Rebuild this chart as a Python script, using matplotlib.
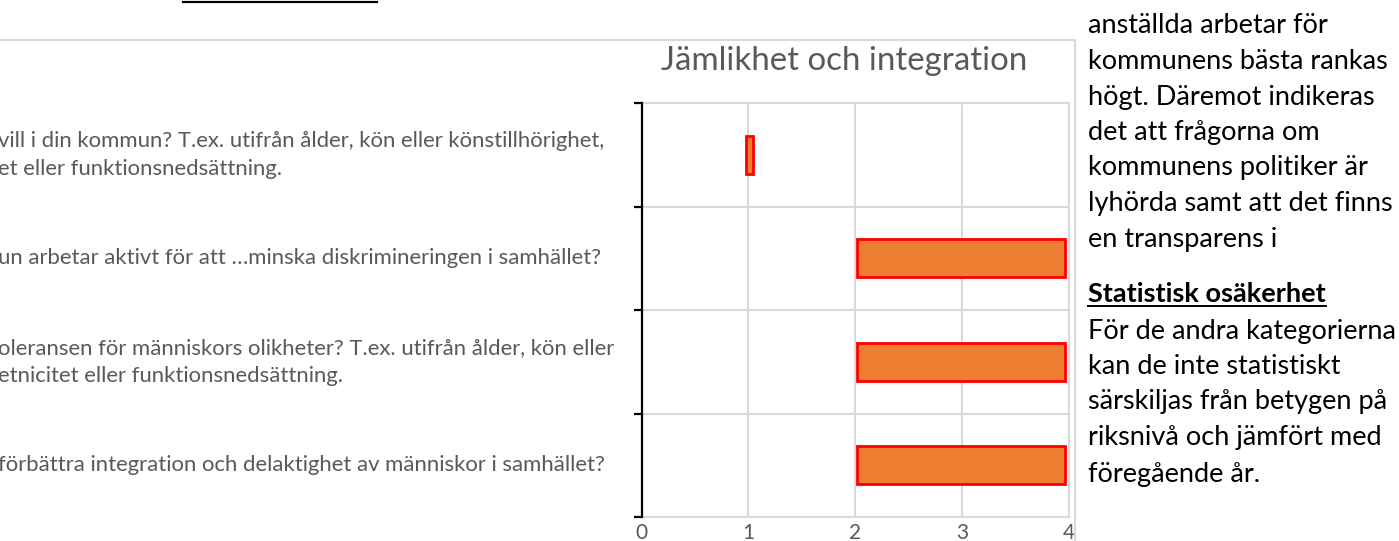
import matplotlib
matplotlib.use('Agg')
import matplotlib.pyplot as plt
from matplotlib import transforms
from matplotlib.lines import Line2D

plt.rcParams['font.family'] = ['Lato', 'DejaVu Sans']

# ---------------- data ----------------
categories = [
    "vill i din kommun? T.ex. utifrån ålder, kön eller könstillhörighet,\net eller funktionsnedsättning.",
    "un arbetar aktivt för att …minska diskrimineringen i samhället?",
    "oleransen för människors olikheter? T.ex. utifrån ålder, kön eller\netnicitet eller funktionsnedsättning.",
    "förbättra integration och delaktighet av människor i samhället?",
]
range_start = [0.975, 2.02, 2.02, 2.02]
range_end = [1.045, 3.97, 3.97, 3.97]
x_ticks = [0, 1, 2, 3, 4]
chart_title = "Jämlikhet och integration"

body_1 = [
    "anställda arbetar för",
    "kommunens bästa rankas",
    "högt. Däremot indikeras",
    "det att frågorna om",
    "kommunens politiker är",
    "lyhörda samt att det finns",
    "en transparens i",
]
heading = "Statistisk osäkerhet"
body_2 = [
    "För de andra kategorierna",
    "kan de inte statistiskt",
    "särskiljas från betygen på",
    "riksnivå och jämfört med",
    "föregående år.",
]

# ---------------- layout ----------------
W, H, DPI = 1399, 541, 100
fig = plt.figure(figsize=(W / DPI, H / DPI), dpi=DPI)
fig.patch.set_facecolor('white')


def fx(x):
    return x / W


def fy(y):
    return 1 - y / H


GRID = '#d9d9d9'
GRAY = '#595959'

ax = fig.add_axes([fx(641.7), fy(517), (1068.5 - 641.7) / W, (517 - 103) / H])
ypos = list(range(len(categories)))
widths = [e - s for s, e in zip(range_start, range_end)]
ax.barh(ypos, widths, left=range_start, height=0.37,
        color='#ED7D31', edgecolor='#FF0000', linewidth=2.0, zorder=3)

ax.set_xlim(0, 4)
ax.set_ylim(len(categories) - 0.5, -0.5)
ax.set_xticks(x_ticks)
ax.set_xticklabels([str(t) for t in x_ticks])
ax.set_yticks([])
ax.set_yticks([i - 0.5 for i in range(len(categories) + 1)], minor=True)
ax.tick_params(axis='y', which='minor', length=6, width=1.6, color='black',
               direction='out', labelleft=False)
ax.tick_params(axis='x', length=0, pad=4, labelcolor=GRAY, labelsize=15)
ax.grid(axis='x', which='major', color=GRID, linewidth=1.5, zorder=0)
ax.grid(axis='y', which='minor', color=GRID, linewidth=1.5, zorder=0)
ax.set_axisbelow(True)
for s in ['top', 'bottom', 'right']:
    ax.spines[s].set_color(GRID)
    ax.spines[s].set_linewidth(1.5)
ax.spines['left'].set_color('black')
ax.spines['left'].set_linewidth(1.6)
ax.spines['left'].set_zorder(5)

# category labels (left aligned, cropped at figure edge)
trans = transforms.blended_transform_factory(fig.transFigure, ax.transData)
label_texts = []
for i, lab in enumerate(categories):
    t = ax.text(fx(-2), i, lab, transform=trans, ha='left', va='center',
                color=GRAY, fontsize=13, linespacing=1.5, clip_on=False)
    label_texts.append(t)

# title
title_t = fig.text(fx(844.5), fy(70), chart_title, ha='center', va='baseline',
                   color=GRAY, fontsize=22)

# chart frame lines
fig.add_artist(Line2D([0, fx(1075)], [fy(40), fy(40)], color=GRID, lw=1.5))
fig.add_artist(Line2D([fx(1075), fx(1075)], [fy(40), 0], color=GRID, lw=1.5))
# cropped underline at top of page
fig.add_artist(Line2D([fx(183), fx(377)], [fy(1.5), fy(1.5)], color='black', lw=1.6))

# right body text
body_base_1 = [33, 69, 105, 140, 175, 211, 247]
body_base_2 = [339, 374, 409, 445, 482]
body_texts = []
for line, yb in zip(body_1, body_base_1):
    body_texts.append(fig.text(fx(1088), fy(yb), line, ha='left', va='baseline',
                               color='black', fontsize=18))
head_t = fig.text(fx(1088), fy(302), heading, ha='left', va='baseline',
                  color='black', fontsize=18, fontweight='bold')
for line, yb in zip(body_2, body_base_2):
    body_texts.append(fig.text(fx(1088), fy(yb), line, ha='left', va='baseline',
                               color='black', fontsize=18))

# ---- fit text sizes to the reference widths ----
fig.canvas.draw()
r = fig.canvas.get_renderer()


def fit(t, target):
    w = t.get_window_extent(r).width
    return t.get_fontsize() * target / w


s_lab = fit(label_texts[0], 607)
for t in label_texts:
    t.set_fontsize(s_lab)
title_t.set_fontsize(fit(title_t, 365))
s_body = fit(body_texts[1], 300)
for t in body_texts:
    t.set_fontsize(s_body)
head_t.set_fontsize(s_body)
fig.canvas.draw()
hw = head_t.get_window_extent(r).width
fig.add_artist(Line2D([fx(1088), fx(1088 + hw)], [fy(305.5), fy(305.5)],
                      color='black', lw=1.4))

fig.savefig('out.png', dpi=DPI)
